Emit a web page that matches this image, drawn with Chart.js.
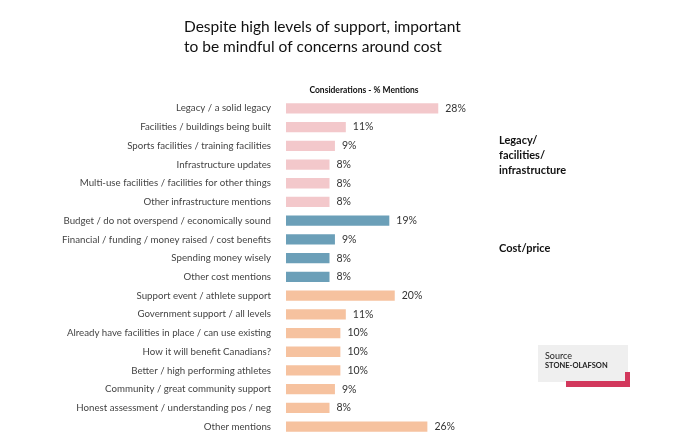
<!DOCTYPE html>
<html>
<head>
<meta charset="utf-8">
<script src="https://cdn.jsdelivr.net/npm/chart.js@4.4.1/dist/chart.umd.min.js"></script>
<style>
  html, body { margin: 0; padding: 0; background: #fff; }
  #wrap { width: 682px; height: 444px; position: relative; }
</style>
</head>
<body>
<div id="wrap"><canvas id="stage"></canvas></div>
<script>
// categories and values (% mentions)
var categories = [
    "Legacy / a solid legacy",
    "Facilities / buildings being built",
    "Sports facilities / training facilities",
    "Infrastructure updates",
    "Multi-use facilities / facilities for other things",
    "Other infrastructure mentions",
    "Budget / do not overspend / economically sound",
    "Financial / funding / money raised / cost benefits",
    "Spending money wisely",
    "Other cost mentions",
    "Support event / athlete support",
    "Government support / all levels",
    "Already have facilities in place / can use existing",
    "How it will benefit Canadians?",
    "Better / high performing athletes",
    "Community / great community support",
    "Honest assessment / understanding pos / neg",
    "Other mentions"
];
var mentions = [28, 11, 9, 8, 8, 8, 19, 9, 8, 8, 20, 11, 10, 10, 10, 9, 8, 26];
// group of each row: 0 legacy, 1 cost, 2 other
var groups = [0, 0, 0, 0, 0, 0, 1, 1, 1, 1, 2, 2, 2, 2, 2, 2, 2, 2];
var groupColors = ['#f3c8cb', '#6b9fb8', '#f6c29f'];

var titleLines = ["Despite high levels of support, important", "to be mindful of concerns around cost"];
var subTitle = "Considerations - % Mentions";
var groupNotes = [
    { lines: ["Legacy/", "facilities/", "infrastructure"], y: 140 },
    { lines: ["Cost/price"], y: 248 }
];

//「テキスト類を描くプラグイン」
var textPlugin = {
    id: 'texts',
    afterDatasetsDraw: function (chart) {
        var ctx = chart.ctx;
        ctx.save();
        ctx.textBaseline = 'middle';

        // value labels beside bars
        ctx.fillStyle = '#333';
        ctx.font = '10.5px Lato';
        ctx.textAlign = 'left';
        chart.getDatasetMeta(0).data.forEach(function (bar, i) {
            ctx.fillText(mentions[i] + '%', bar.x + 7, bar.y);
        });

        // title
        ctx.fillStyle = '#111';
        ctx.font = '15.5px Lato';
        ctx.fillText(titleLines[0], 184, 27);
        ctx.fillText(titleLines[1], 184, 47);

        // column header
        ctx.font = 'bold 8.5px Lato';
        ctx.textAlign = 'center';
        ctx.fillText(subTitle, 364, 90);

        // group notes on the right
        ctx.textAlign = 'left';
        ctx.font = 'bold 11px Lato';
        groupNotes.forEach(function (g) {
            g.lines.forEach(function (t, k) {
                ctx.fillText(t, 499, g.y + k * 15);
            });
        });

        // source box
        ctx.fillStyle = '#efefef';
        ctx.fillRect(538, 345, 90, 37);
        ctx.fillStyle = '#d2385c';
        ctx.fillRect(566, 381, 64, 6);
        ctx.fillRect(625, 372, 5, 15);
        ctx.fillStyle = '#222';
        ctx.font = '9px Lato';
        ctx.fillText('Source', 545, 356);
        ctx.font = 'bold 7.5px Lato';
        ctx.fillText('STONE-OLAFSON', 545, 366);
        ctx.restore();
    }
};

var canvas = document.getElementById('stage');
var chart = new Chart(canvas, {
    type: 'bar',
    data: {
        labels: categories,
        datasets: [{
            data: mentions,
            backgroundColor: groups.map(function (g) { return groupColors[g]; }),
            barPercentage: 0.55,
            categoryPercentage: 1
        }]
    },
    options: {
        indexAxis: 'y',
        responsive: true,
        maintainAspectRatio: false,
        animation: false,
        layout: { padding: { top: 99, bottom: 8, left: 0, right: 222 } },
        plugins: {
            legend: { display: false },
            tooltip: { enabled: false }
        },
        scales: {
            x: { display: false, min: 0, max: 32 },
            y: {
                grid: { display: false },
                border: { display: false },
                ticks: {
                    padding: 7,
                    color: '#444',
                    font: { family: 'Lato', size: 9.7 }
                },
                afterFit: function (s) {
                    s.width = 286;
                    s.paddingTop = 0;
                    s.paddingBottom = 0;
                }
            }
        }
    },
    plugins: [textPlugin]
});
</script>
</body>
</html>
